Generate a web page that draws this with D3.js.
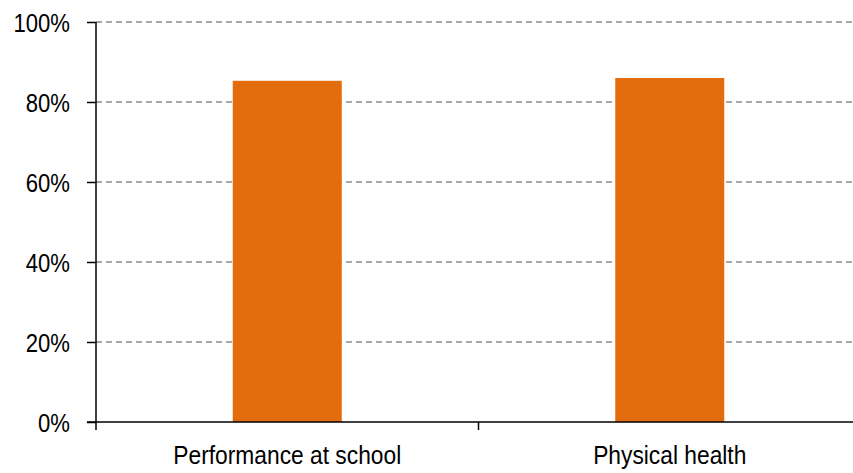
<!DOCTYPE html>
<html>
<head>
<meta charset="utf-8">
<script src="https://cdn.jsdelivr.net/npm/d3@7"></script>
<style>
  html, body { margin: 0; padding: 0; background: #fff; }
  svg { display: block; }
  text { font-family: "Liberation Sans", Arial, sans-serif; fill: #000; }
</style>
</head>
<body>
<svg id="chart" width="853" height="473"></svg>
<script>
// Share of respondents by area
const categories = ["Performance at school", "Physical health"];
const values = [85.3, 86.0];
const yTicks = [0, 20, 40, 60, 80, 100];

const W = 853, H = 473;
const margin = { left: 96, top: 22, bottom: 51 };
const plotRight = 861;       // category band runs slightly past the frame
const squeeze = 0.85;        // narrow text look

const svg = d3.select("#chart");

const x = d3.scaleBand()
  .domain(categories)
  .range([margin.left, plotRight])
  .paddingInner(0.715)
  .paddingOuter(0.3575);

const y = d3.scaleLinear()
  .domain([0, 100])
  .range([H - margin.bottom, margin.top]);

// dashed gridlines
svg.append("g")
  .selectAll("line")
  .data(yTicks.filter(d => d > 0))
  .join("line")
  .attr("x1", margin.left)
  .attr("x2", W)
  .attr("y1", d => y(d))
  .attr("y2", d => y(d))
  .attr("stroke", "#8c8c8c")
  .attr("stroke-width", 1.3)
  .attr("stroke-dasharray", "6,4");

// bars
svg.append("g")
  .selectAll("rect")
  .data(values)
  .join("rect")
  .attr("x", (d, i) => x(categories[i]))
  .attr("width", x.bandwidth())
  .attr("y", d => y(d))
  .attr("height", d => y(0) - y(d))
  .attr("fill", "#E36C0C");

// y axis
const yAxis = svg.append("g")
  .attr("transform", `translate(${margin.left},0)`)
  .call(d3.axisLeft(y).tickValues(yTicks).tickSize(9).tickPadding(0).tickFormat(d => d + "%"));
yAxis.select(".domain")
  .attr("d", `M0,${y(100)}V${y(0) + 8}`)
  .attr("stroke", "#000").attr("stroke-width", 1.5);
yAxis.selectAll(".tick line").attr("stroke", "#000").attr("stroke-width", 1.5);
yAxis.selectAll(".tick text")
  .attr("x", null).attr("dy", null)
  .attr("text-anchor", "end")
  .attr("font-size", 26)
  .attr("font-family", "'Liberation Sans', Arial, sans-serif")
  .attr("transform", `translate(-26,9.5) scale(${squeeze},1)`);

// x axis with ticks on the category boundaries
const xAxisG = svg.append("g")
  .attr("transform", `translate(0,${y(0)})`);
xAxisG.append("line")
  .attr("x1", margin.left - 9).attr("x2", plotRight)
  .attr("stroke", "#000").attr("stroke-width", 1.5);
const bounds = [x.range()[0], ...categories.slice(1).map(c => x(c) - x.step() * x.paddingInner() / 2), x.range()[1]];
xAxisG.selectAll("line.tk")
  .data(bounds.slice(1))
  .join("line")
  .attr("class", "tk")
  .attr("x1", d => d).attr("x2", d => d)
  .attr("y1", 0).attr("y2", 8)
  .attr("stroke", "#000").attr("stroke-width", 1.5);

xAxisG.selectAll("text")
  .data(categories)
  .join("text")
  .attr("text-anchor", "middle")
  .attr("font-size", 26.5)
  .attr("transform", d => `translate(${x(d) + x.bandwidth() / 2},42) scale(${squeeze + 0.01},1)`)
  .text(d => d);
</script>
</body>
</html>
